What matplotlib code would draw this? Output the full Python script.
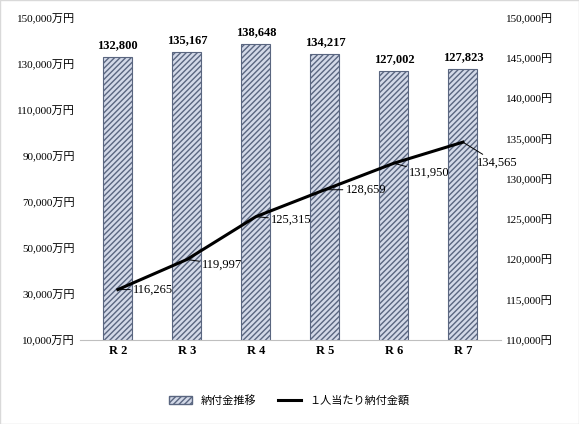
import matplotlib
matplotlib.use("Agg")
import matplotlib.pyplot as plt

cats = ["R 2", "R 3", "R 4", "R 5", "R 6", "R 7"]
bars = [132800, 135167, 138648, 134217, 127002, 127823]
per = [116265, 119997, 125315, 128659, 131950, 134565]
lticks = list(range(10000, 150001, 20000))
rticks = list(range(110000, 150001, 5000))

plt.rcParams['font.family'] = ['Liberation Serif', 'Noto Sans CJK JP']
fig = plt.figure(figsize=(5.79, 4.24), dpi=100)
ax = fig.add_axes([0.138, 0.198, 0.727, 0.76])
ax2 = ax.twinx()
x = list(range(len(cats)))
ax.bar(x, bars, width=0.42, facecolor='#d3d9e8', edgecolor='#5a6680', hatch='//////', linewidth=0.8)
for xi, v in zip(x, bars):
    ax.text(xi, v + 2500, f"{v:,}", ha='center', va='bottom', fontsize=9, fontweight='bold')
ax.set_ylim(10000, 150000)
ax.set_yticks(lticks)
ax.set_yticklabels([f"{t:,}万円" for t in lticks], fontsize=8)
ax.set_xlim(-0.55, 5.55)
ax.set_xticks(x)
ax.set_xticklabels(cats, fontsize=9, fontweight='bold')
ax2.plot(x, per, color='black', lw=2.2)
ax2.set_ylim(110000, 150000)
ax2.set_yticks(rticks)
ax2.set_yticklabels([f"{t:,}円" for t in rticks], fontsize=8)
offs = [(0.22, 0), (0.22, -600), (0.22, -400), (0.3, 0), (0.22, -1200), (0.2, -2600)]
for xi, v, (dx, dy) in zip(x, per, offs):
    ax2.annotate(f"{v:,}", xy=(xi, v), xytext=(xi + dx, v + dy), fontsize=9,
                 ha='left', va='center',
                 arrowprops=dict(arrowstyle='-', color='black', lw=0.7, shrinkA=0, shrinkB=0))
for a in (ax, ax2):
    a.tick_params(length=0)
    for s in a.spines.values():
        s.set_visible(False)
ax.spines['bottom'].set_visible(True)
ax.spines['bottom'].set_color('#bfbfbf')
from matplotlib.patches import Patch
from matplotlib.lines import Line2D
h = [Patch(facecolor='#d3d9e8', edgecolor='#5a6680', hatch='//////', label='納付金推移'),
     Line2D([], [], color='black', lw=2.2, label='１人当たり納付金額')]
fig.legend(handles=h, loc='lower center', ncol=2, frameon=False,
           bbox_to_anchor=(0.5, 0.02), prop={'family': ['Noto Sans CJK JP'], 'size': 8})
fig.patches.append(matplotlib.patches.Rectangle((0, 0), 1, 1, transform=fig.transFigure,
                   fill=False, edgecolor='#d9d9d9', lw=1))
fig.savefig("out.png", dpi=100)
